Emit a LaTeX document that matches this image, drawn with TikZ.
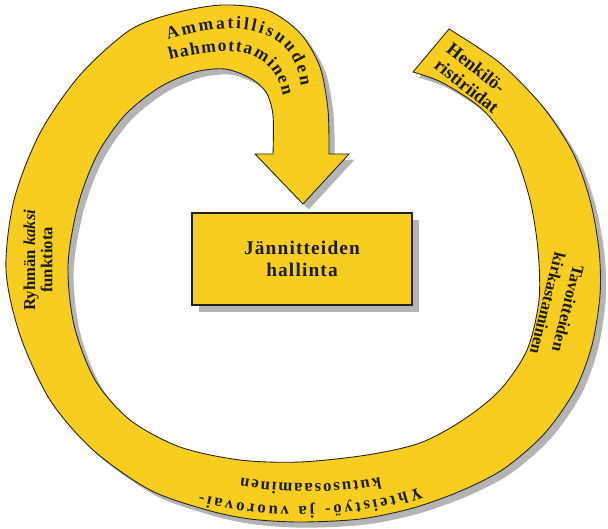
\documentclass[tikz,border=0pt]{standalone}
\usepackage{fontspec}
\setmainfont{Liberation Serif}
\newfontfamily\boxfont[LetterSpace=6]{Liberation Serif}
\usetikzlibrary{decorations.text,shadows}

\definecolor{ringyellow}{RGB}{247,206,31}
\definecolor{edgegray}{RGB}{35,35,35}
\definecolor{shadowgray}{RGB}{180,180,180}
\definecolor{textdark}{RGB}{28,28,28}

\tikzset{
	band/.style={fill=ringyellow, draw=edgegray, line width=0.5pt,
		drop shadow={shadow xshift=3.2pt, shadow yshift=-3.2pt, fill=shadowgray, opacity=1}},
	ringlabel/.style={font=\bfseries, text=textdark, inner sep=0pt},
	arclabel/.style={decorate, decoration={text along path, text align=fit to path, text={#1}}}
}

\begin{document}
\begin{tikzpicture}[x=0.02cm, y=-0.02cm]
	\useasboundingbox (0,0) rectangle (608,528);

	%Draws the ring that curls into the arrow
	\path[band] plot[smooth] coordinates {(449,29) (500,63) (543,107) (573,153) (590,200) (599,250) (600,295) (592,345) (575,390) (545,433) (505,468) (463,490) (413,508) (360,519) (300,522) (250,519) (207,510) (150,490) (93,450) (50,400) (20,335) (6,270) (14,200) (40,133) (80,75) (130,30) (175,13) (222,5) (267,10) (300,33) (320,67) (328,110) (329,154)}
		-- (349,154) -- (303,204) -- (255,154) -- (273,154)
		-- plot[smooth] coordinates {(273,154) (273,115) (266,92) (250,78) (225,69) (195,72) (160,87) (125,115) (97,155) (78,205) (68,265) (74,325) (95,380) (130,420) (180,447) (240,460) (300,462) (367,455) (420,443) (463,420) (500,390) (527,350) (539,300) (538,250) (530,200) (513,150) (483,110) (443,83) (413,72)}
		-- cycle;

	%Draws the box in the middle
	\node[draw=edgegray, line width=1.4pt, fill=ringyellow, minimum width=4.4cm, minimum height=1.84cm,
		drop shadow={shadow xshift=4pt, shadow yshift=-4pt, fill=shadowgray, opacity=1},
		align=center, text=textdark, font=\boxfont\bfseries\fontsize{11}{12.5}\selectfont] (hallinta) at (302,259) {Jännitteiden\\hallinta};

	%Labels written along the curved parts
	\path[arclabel={|\bfseries\fontsize{10}{11}\selectfont\color{textdark}|Ammatillisuuden}] (168,40) .. controls (225,22) and (292,18) .. (301,86);
	\path[arclabel={|\bfseries\fontsize{10}{11}\selectfont\color{textdark}|hahmottaminen}] (170,60) .. controls (228,45) and (272,45) .. (283,96);
	\path[arclabel={|\bfseries\fontsize{9.5}{10}\selectfont\color{textdark}|Yhteistyö- ja vuorovai-}] (420,487) .. controls (355,511) and (265,513) .. (200,494);
	\path[arclabel={|\bfseries\fontsize{9.5}{10}\selectfont\color{textdark}|kutusosaaminen}] (380,477) .. controls (340,486) and (285,486) .. (241,478);

	%Labels on the straight parts
	\node[ringlabel, rotate=-38, align=left, font=\bfseries\fontsize{10.5}{11.5}\selectfont] (henkilo) at (473,78) {Henkilö-\\ristiriidat};
	\node[ringlabel, rotate=-104, align=center, font=\bfseries\fontsize{9.5}{11.9}\selectfont] (tavoite) at (558,306) {Tavoitteiden\\kirkastaminen};
	\node[ringlabel, rotate=90, align=center, font=\bfseries\fontsize{9.5}{9.8}\selectfont] (ryhma) at (38,260) {Ryhmän \textit{kaksi}\\funktiota};
\end{tikzpicture}
\end{document}
